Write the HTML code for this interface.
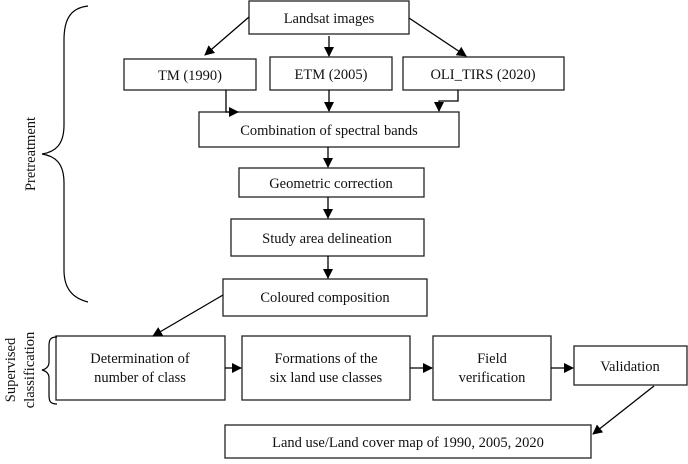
<!DOCTYPE html>
<html><head><meta charset="utf-8"><style>
body{margin:0;background:#fff;}
svg text{font-family:"Liberation Serif",serif;font-size:14.5px;fill:#111;}
</style></head><body>
<svg width="688" height="459" viewBox="0 0 688 459" xmlns="http://www.w3.org/2000/svg">
<defs><marker id="a" markerWidth="10" markerHeight="10" refX="9" refY="5" orient="auto" markerUnits="userSpaceOnUse"><path d="M0,0 L10,5 L0,10 z" fill="#000"/></marker></defs>
<g fill="none" stroke="#222" stroke-width="1.3">
<rect x="249" y="1" width="160" height="33"/>
<rect x="124" y="59" width="132" height="31"/>
<rect x="270" y="57" width="122" height="33"/>
<rect x="403" y="57" width="161" height="33"/>
<rect x="199" y="112" width="260" height="35"/>
<rect x="239" y="168" width="185" height="29"/>
<rect x="231" y="219" width="193" height="37"/>
<rect x="223" y="279" width="204" height="37"/>
<rect x="56" y="336" width="169" height="64"/>
<rect x="242" y="336" width="168" height="64"/>
<rect x="433" y="336" width="118" height="64"/>
<rect x="574" y="346" width="113" height="39"/>
<rect x="225" y="425" width="366" height="33"/>
</g>
<g stroke="#000" stroke-width="1.3" fill="none" marker-end="url(#a)">
<line x1="249" y1="17" x2="205" y2="55"/>
<line x1="329" y1="36" x2="329" y2="56"/>
<line x1="409" y1="18" x2="466" y2="56"/>
<polyline points="226,90 226,112 238,112"/>
<line x1="329" y1="90" x2="329" y2="111"/>
<polyline points="458,90 458,101 439,101 439,111"/>
<line x1="328" y1="147" x2="328" y2="167"/>
<line x1="328" y1="197" x2="328" y2="218"/>
<line x1="328" y1="256" x2="328" y2="278"/>
<line x1="223" y1="295" x2="153" y2="336"/>
<line x1="225" y1="368" x2="241" y2="368"/>
<line x1="410" y1="368" x2="432" y2="368"/>
<line x1="551" y1="368" x2="573" y2="368"/>
<line x1="654" y1="386" x2="593" y2="434"/>
</g>
<g stroke="#000" stroke-width="1.2" fill="none">
<path d="M88,6 C70,8 64,20 64,40 L64,125 C64,145 55,152 42,154 C55,156 64,163 64,183 L64,270 C64,288 72,298 88,302"/>
<path d="M57,337 C50,337 49,340 49,346 L49,362 C49,367 46,369 42,370 C46,371 49,373 49,378 L49,395 C49,401 50,404 57,404"/>
</g>
<g text-anchor="middle">
<text x="329" y="23">Landsat images</text>
<text x="190" y="80">TM (1990)</text>
<text x="331" y="79">ETM (2005)</text>
<text x="483" y="79">OLI_TIRS (2020)</text>
<text x="329" y="135">Combination of spectral bands</text>
<text x="331" y="188">Geometric correction</text>
<text x="327" y="243">Study area delineation</text>
<text x="325" y="302">Coloured composition</text>
<text x="140" y="363">Determination of</text>
<text x="140" y="382">number of class</text>
<text x="326" y="363">Formations of the</text>
<text x="326" y="382">six land use classes</text>
<text x="492" y="363">Field</text>
<text x="492" y="382">verification</text>
<text x="630" y="371">Validation</text>
<text x="408" y="447">Land use/Land cover map of 1990, 2005, 2020</text>
<text transform="translate(35,154) rotate(-90)">Pretreatment</text>
<text transform="translate(15,370) rotate(-90)">Supervised</text>
<text transform="translate(34,370) rotate(-90)">classification</text>
</g>
</svg>
</body></html>
